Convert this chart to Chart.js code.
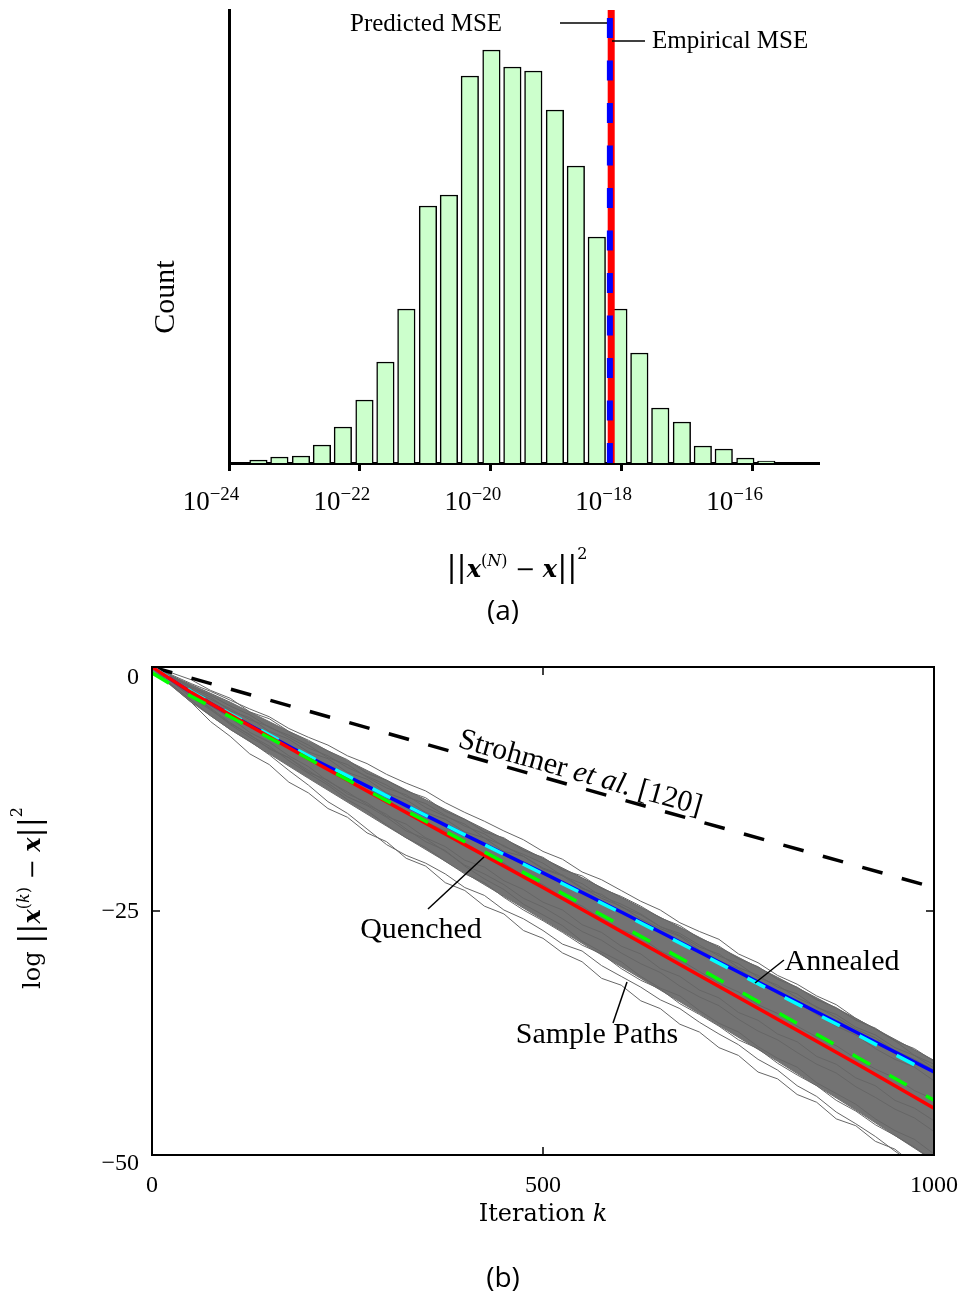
<!DOCTYPE html>
<html>
<head>
<meta charset="utf-8">
<title>Error histogram and sample paths</title>
<script src="https://cdn.jsdelivr.net/npm/chart.js@4.4.1/dist/chart.umd.min.js"></script>
<style>
  body { margin: 0; background: #fff; }
  #wrap { position: relative; width: 964px; height: 1297px; }
  #histo { position: absolute; left: 0; top: 0; }
  #paths { position: absolute; left: 0; top: 640px; }
</style>
</head>
<body>
<div id="wrap">
  <canvas id="histo" width="964" height="640"></canvas>
  <canvas id="paths" width="964" height="657"></canvas>
</div>
<script>
'use strict';

// (a) histogram of the final squared error, bins in log10 units
let binCenters = [-23.55, -23.23, -22.90, -22.58, -22.26, -21.93, -21.61, -21.29, -20.96, -20.64,
  -20.32, -19.99, -19.67, -19.35, -19.02, -18.70, -18.38, -18.05, -17.73, -17.41,
  -17.08, -16.76, -16.44, -16.11, -15.79];
let binCounts = [3, 6, 7, 18, 36, 63, 101, 154, 257, 268,
  387, 413, 396, 392, 353, 297, 226, 154, 110, 55,
  41, 17, 14, 5, 2];
let decadeTicks = [-24, -22, -20, -18, -16];
let predictedMse = -18.18;
let empiricalMse = -18.16;
let countMax = 453;

// (b) log error against iteration
let iterK = [0, 50, 100, 200, 300, 400, 500, 600, 700, 800, 900, 1000];
let annealedEmp = [0, -2.6, -4.9, -9.2, -13.2, -17.2, -21.1, -25.1, -29.2, -33.3, -37.4, -41.5];
let annealedPred = [0, -2.5, -4.8, -9.1, -13.2, -17.2, -21.2, -25.2, -29.3, -33.5, -37.6, -41.8];
let quenchedEmp = [0, -2.6, -4.9, -9.4, -13.8, -18.2, -22.6, -27.1, -31.6, -36.1, -40.6, -45.2];
let quenchedPred = [-0.6, -3.0, -5.1, -9.4, -13.7, -17.9, -22.1, -26.5, -30.9, -35.4, -39.9, -44.4];
let boundK = [0, 1000];
let boundVals = [0, -22.6];
let bandTop = [0, -1.8, -3.6, -7.6, -11.6, -15.6, -19.6, -23.6, -27.7, -31.8, -36.0, -40.3];
let bandBottom = [-0.3, -3.6, -6.4, -11.4, -16.3, -21.1, -25.9, -30.7, -35.5, -40.4, -45.4, -50.6];
let pathK = [0, 25, 50, 75, 100, 125, 150, 175, 200, 225, 250, 275, 300, 325, 350, 375, 400, 425, 450, 475,
  500, 525, 550, 575, 600, 625, 650, 675, 700, 725, 750, 775, 800, 825, 850, 875, 900, 925, 950, 975, 1000];
let samplePaths = [
  [0, -0.8, -1.7, -2.5, -3.4, -4.3, -5.1, -6.3, -7.2, -8.0, -9.1, -9.9, -11.0, -11.9, -12.7, -13.9, -14.9, -15.8, -16.8, -17.7,
   -18.9, -19.7, -21.0, -21.8, -22.9, -24.0, -24.9, -26.2, -27.1, -27.9, -29.4, -30.3, -31.6, -32.5, -33.7, -34.6, -36.0, -37.1, -38.3, -39.8, -40.7],
  [0, -1.2, -2.4, -3.3, -4.3, -5.4, -6.1, -7.2, -8.3, -9.1, -10.3, -11.2, -12.1, -13.3, -14.0, -15.2, -16.3, -17.1, -18.4, -19.2,
   -20.1, -21.4, -22.2, -23.5, -24.3, -25.3, -26.6, -27.3, -28.5, -29.6, -30.4, -31.8, -32.6, -33.9, -34.8, -35.9, -37.1, -38.0, -39.3, -40.2, -41.3],
  [0, -1.8, -3.4, -5.0, -6.4, -7.6, -9.0, -10.6, -12.1, -13.8, -15.0, -16.6, -18.2, -19.3, -20.1, -21.2, -22.6, -23.4, -24.9, -25.8,
   -27.0, -28.4, -29.1, -30.6, -31.7, -32.8, -34.1, -35.0, -36.4, -37.6, -38.7, -40.2, -41.3, -42.9, -44.0, -45.6, -46.8, -48.1, -49.6, -51.0, -52.4],
  [0, -1.5, -2.9, -4.2, -5.7, -7.0, -8.1, -9.6, -10.9, -12.1, -13.6, -14.7, -16.2, -17.5, -18.5, -19.9, -21.2, -22.1, -23.6, -24.9,
   -26.0, -27.2, -28.5, -29.4, -30.9, -32.1, -33.0, -34.5, -35.6, -36.8, -38.2, -39.1, -40.6, -41.8, -42.9, -44.4, -45.5, -46.9, -48.0, -49.2, -50.6],
  [0, -1.4, -2.8, -4.3, -5.9, -7.2, -8.3, -9.3, -10.6, -11.9, -13.3, -14.2, -15.4, -16.8, -17.6, -18.9, -20.3, -21.2, -22.3, -23.7,
   -24.6, -25.8, -27.1, -28.0, -29.3, -30.4, -31.3, -32.7, -33.8, -34.7, -36.1, -37.3, -38.2, -39.5, -40.7, -41.6, -43.0, -44.1, -45.3, -46.2, -47.6],
  [0, -1.0, -2.2, -3.6, -4.7, -5.8, -7.1, -8.0, -9.3, -10.5, -11.4, -12.7, -13.6, -14.8, -15.9, -16.8, -18.1, -19.2, -20.1, -21.4,
   -22.3, -23.6, -24.5, -25.8, -26.9, -27.7, -29.1, -30.0, -31.2, -32.4, -33.3, -34.6, -35.5, -36.8, -37.9, -38.8, -40.1, -41.2, -42.1, -43.4, -44.3],
  [0, -1.3, -2.6, -4.0, -5.2, -6.7, -7.7, -9.1, -10.2, -11.7, -12.8, -14.1, -15.1, -16.6, -17.9, -18.8, -20.4, -21.7, -22.8, -24.3,
   -25.4, -26.5, -28.1, -29.2, -30.2, -31.7, -32.9, -33.7, -35.2, -36.5, -37.4, -38.9, -40.1, -41.0, -42.6, -43.7, -44.8, -46.3, -47.5, -48.4, -49.9],
  [0, -0.9, -2.0, -2.9, -4.0, -4.9, -6.2, -7.0, -8.0, -9.3, -10.0, -11.3, -12.4, -13.1, -14.4, -15.3, -16.1, -17.5, -18.3, -19.4,
   -20.6, -21.3, -22.6, -23.7, -24.5, -25.8, -26.8, -27.6, -29.0, -30.1, -30.9, -32.3, -33.5, -34.3, -35.6, -36.8, -37.7, -39.1, -40.2, -41.0, -42.4],
  [0, -0.6, -1.3, -2.4, -3.2, -4.6, -5.3, -6.6, -7.5, -8.6, -9.5, -10.9, -11.6, -12.7, -13.4, -14.8, -15.6, -16.9, -17.5, -18.8,
   -19.5, -20.8, -21.4, -22.7, -23.5, -24.5, -25.7, -26.5, -27.8, -28.6, -29.9, -30.7, -32.0, -32.8, -34.1, -34.9, -36.2, -37.0, -38.3, -39.1, -40.4],
  [0, -1.0, -2.1, -3.1, -4.5, -5.2, -6.6, -7.4, -8.7, -9.4, -10.8, -11.5, -12.9, -13.6, -14.9, -15.6, -16.9, -17.5, -18.9, -19.4,
   -20.7, -21.4, -22.7, -23.3, -24.6, -25.4, -26.6, -27.5, -28.7, -29.4, -30.8, -31.6, -32.8, -33.5, -34.9, -35.6, -36.9, -37.7, -39.0, -39.8, -41.1],
  [0, -1.9, -3.6, -5.6, -7.1, -8.9, -10.0, -11.8, -12.9, -14.5, -15.4, -17.0, -17.9, -19.6, -20.4, -22.1, -22.9, -24.5, -25.3, -27.0,
   -27.8, -29.3, -30.2, -31.9, -32.6, -34.2, -35.0, -36.6, -37.4, -39.0, -39.8, -41.5, -42.2, -43.8, -44.6, -46.3, -47.0, -48.6, -49.4, -51.0, -51.8],
  [0, -1.5, -3.1, -4.4, -5.8, -6.9, -8.4, -9.3, -10.8, -11.6, -13.0, -13.9, -15.3, -16.1, -17.5, -18.4, -19.8, -20.5, -21.9, -22.8,
   -24.1, -24.9, -26.4, -27.2, -28.6, -29.4, -30.9, -31.7, -33.1, -33.9, -35.4, -36.2, -37.6, -38.4, -39.9, -40.7, -42.1, -42.9, -44.4, -45.2, -46.5]
];
let kTicks = [0, 500, 1000];
let logTicks = [0, -25, -50];

let DV = '"DejaVu Serif"';
let TM = '"Liberation Serif"';
let gray = '#666666';

function xy(xs, ys) {
  return xs.map((x, i) => ({ x: x, y: ys[i] }));
}

// draw a row of [text, font, raise] pieces centred on x
function mathText(ctx, parts, x, y) {
  let w = 0;
  for (let p of parts) { ctx.font = p[1]; w += ctx.measureText(p[0]).width; }
  let cx = x - w / 2;
  ctx.textAlign = 'left';
  ctx.textBaseline = 'alphabetic';
  for (let p of parts) {
    ctx.font = p[1];
    ctx.fillText(p[0], cx, y - (p[2] || 0));
    cx += ctx.measureText(p[0]).width;
  }
}

function normParts(sup) {
  return [
    ['||', '30px ' + DV],
    ['x', 'bold italic 24px ' + DV],
    ['(', '16px ' + DV, 11], [sup, 'italic 16px ' + DV, 11], [')', '16px ' + DV, 11],
    [' \u2212 ', '24px ' + DV],
    ['x', 'bold italic 24px ' + DV],
    ['||', '30px ' + DV],
    ['2', '16px ' + DV, 18]
  ];
}

function leader(ctx, x1, y1, x2, y2) {
  ctx.beginPath();
  ctx.moveTo(x1, y1);
  ctx.lineTo(x2, y2);
  ctx.stroke();
}

let histoText = {
  id: 'histoText',
  afterDraw(chart) {
    let ctx = chart.ctx;
    let xs = chart.scales.x;
    ctx.save();
    ctx.fillStyle = '#000';
    ctx.strokeStyle = '#000';
    ctx.lineWidth = 1.5;

    decadeTicks.forEach(t => {
      mathText(ctx, [['10', '27px ' + TM], ['\u2212' + Math.abs(t), '19px ' + TM, 10]], xs.getPixelForValue(t) - 18, 510);
    });

    mathText(ctx, normParts('N'), 517, 577);

    ctx.font = '28px "Open Sans"';
    ctx.textAlign = 'center';
    ctx.fillText('(a)', 503, 620);

    ctx.font = '25px ' + TM;
    ctx.textAlign = 'left';
    ctx.fillText('Predicted MSE', 350, 31);
    ctx.fillText('Empirical MSE', 652, 48);
    leader(ctx, 560, 23, 607, 23);
    leader(ctx, 612, 41, 645, 41);

    ctx.translate(166, 297);
    ctx.rotate(-Math.PI / 2);
    ctx.font = '30px ' + TM;
    ctx.textAlign = 'center';
    ctx.textBaseline = 'middle';
    ctx.fillText('Count', 0, 0);
    ctx.restore();
  }
};

new Chart(document.getElementById('histo'), {
  type: 'bar',
  data: {
    datasets: [
      {
        type: 'line',
        data: [{ x: predictedMse, y: countMax }, { x: predictedMse, y: 0 }],
        borderColor: '#0000ff', borderWidth: 6, borderDash: [20, 22.5], borderDashOffset: 34.5,
        pointRadius: 0, order: 0
      },
      {
        type: 'line',
        data: [{ x: empiricalMse, y: countMax }, { x: empiricalMse, y: 0 }],
        borderColor: '#ff0000', borderWidth: 7, pointRadius: 0, order: 1
      },
      {
        data: xy(binCenters, binCounts),
        backgroundColor: '#ccffcc', borderColor: '#000', borderWidth: 1.5,
        barThickness: 17.5, order: 2
      }
    ]
  },
  options: {
    responsive: false,
    animation: false,
    devicePixelRatio: 1,
    layout: { padding: { left: 229, right: 146, top: 10, bottom: 177 } },
    plugins: { legend: { display: false }, tooltip: { enabled: false } },
    scales: {
      x: {
        type: 'linear', min: -24, max: -15, offset: false,
        afterBuildTicks: s => { s.ticks = decadeTicks.map(v => ({ value: v })); },
        afterFit: s => { s.height = 0; },
        ticks: { display: false },
        grid: { display: true, drawOnChartArea: false, tickLength: 8, lineWidth: 3, color: '#000', offset: false },
        border: { display: true, width: 3, color: '#000' }
      },
      y: {
        min: 0, max: countMax,
        afterFit: s => { s.width = 0; },
        ticks: { display: false },
        grid: { display: false },
        border: { display: true, width: 3, color: '#000' }
      }
    }
  },
  plugins: [histoText]
});

let pathsFrame = {
  id: 'pathsFrame',
  afterDraw(chart) {
    let ctx = chart.ctx;
    let a = chart.chartArea;
    let xs = chart.scales.x;
    let ys = chart.scales.y;
    ctx.save();
    ctx.strokeStyle = '#000';
    ctx.fillStyle = '#000';
    ctx.lineWidth = 2;
    ctx.strokeRect(a.left, a.top, a.width, a.height);

    // inward ticks on the interior tick values
    ctx.lineWidth = 1.5;
    kTicks.slice(1, -1).forEach(v => {
      let px = xs.getPixelForValue(v);
      leader(ctx, px, a.bottom, px, a.bottom - 8);
      leader(ctx, px, a.top, px, a.top + 8);
    });
    logTicks.slice(1, -1).forEach(v => {
      let py = ys.getPixelForValue(v);
      leader(ctx, a.left, py, a.left + 8, py);
      leader(ctx, a.right, py, a.right - 8, py);
    });

    ctx.font = '24px ' + TM;
    ctx.textBaseline = 'alphabetic';
    ctx.textAlign = 'center';
    kTicks.forEach(v => ctx.fillText(String(v), xs.getPixelForValue(v), 552));
    let yShift = [10, 0, 8];
    ctx.textAlign = 'right';
    logTicks.forEach((v, i) => {
      let s = v < 0 ? '\u2212' + Math.abs(v) : String(v);
      ctx.fillText(s, 139, ys.getPixelForValue(v) + yShift[i] + 7);
    });

    mathText(ctx, [['Iteration ', '24px ' + DV], ['k', 'italic 24px ' + DV]], 543, 581);

    ctx.font = '28px "Open Sans"';
    ctx.textAlign = 'center';
    ctx.fillText('(b)', 503, 647);

    // curve annotations
    ctx.lineWidth = 1.5;
    ctx.font = '30px ' + TM;
    ctx.fillText('Quenched', 421, 298);
    ctx.fillText('Annealed', 842, 330);
    ctx.fillText('Sample Paths', 597, 403);
    leader(ctx, 428, 269, 484, 217);
    leader(ctx, 784, 320, 755, 343);
    leader(ctx, 613, 383, 627, 342);

    ctx.save();
    let ang = Math.atan2(ys.getPixelForValue(boundVals[1]) - ys.getPixelForValue(boundVals[0]),
      xs.getPixelForValue(boundK[1]) - xs.getPixelForValue(boundK[0]));
    ctx.translate(578, 141);
    ctx.rotate(ang);
    mathText(ctx, [['Strohmer ', '30px ' + TM], ['et al.', 'italic 30px ' + TM], [' [120]', '30px ' + TM]], 0, 0);
    ctx.restore();

    ctx.translate(40, 258);
    ctx.rotate(-Math.PI / 2);
    mathText(ctx, [['log ', '24px ' + DV]].concat(normParts('k')), 0, 0);
    ctx.restore();
  }
};

let pathSets = samplePaths.map(p => ({
  data: xy(pathK, p), borderColor: gray, borderWidth: 1, pointRadius: 0, order: 8
}));

new Chart(document.getElementById('paths'), {
  type: 'line',
  data: {
    datasets: pathSets.concat([
      { data: xy(iterK, bandTop), borderColor: gray, borderWidth: 1, backgroundColor: '#737373', fill: '+1', pointRadius: 0, order: 9 },
      { data: xy(iterK, bandBottom), borderColor: gray, borderWidth: 1, fill: false, pointRadius: 0, order: 9 },
      { data: xy(boundK, boundVals), borderColor: '#000', borderWidth: 3.5, borderDash: [21, 20], pointRadius: 0, order: 5 },
      { data: xy(iterK, annealedEmp), borderColor: '#0000ff', borderWidth: 3.5, pointRadius: 0, order: 4 },
      { data: xy(iterK, annealedPred), borderColor: '#00ffff', borderWidth: 3.5, borderDash: [20, 22], pointRadius: 0, order: 3 },
      { data: xy(iterK, quenchedEmp), borderColor: '#ff0000', borderWidth: 3.5, pointRadius: 0, order: 2 },
      { data: xy(iterK, quenchedPred), borderColor: '#00ff00', borderWidth: 3.5, borderDash: [20, 22], pointRadius: 0, order: 1 }
    ])
  },
  options: {
    responsive: false,
    animation: false,
    devicePixelRatio: 1,
    layout: { padding: { left: 152, right: 30, top: 27, bottom: 142 } },
    plugins: { legend: { display: false }, tooltip: { enabled: false } },
    scales: {
      x: { type: 'linear', min: 0, max: 1000, display: false },
      y: { min: -50, max: 0, display: false }
    }
  },
  plugins: [pathsFrame]
});
</script>
</body>
</html>
